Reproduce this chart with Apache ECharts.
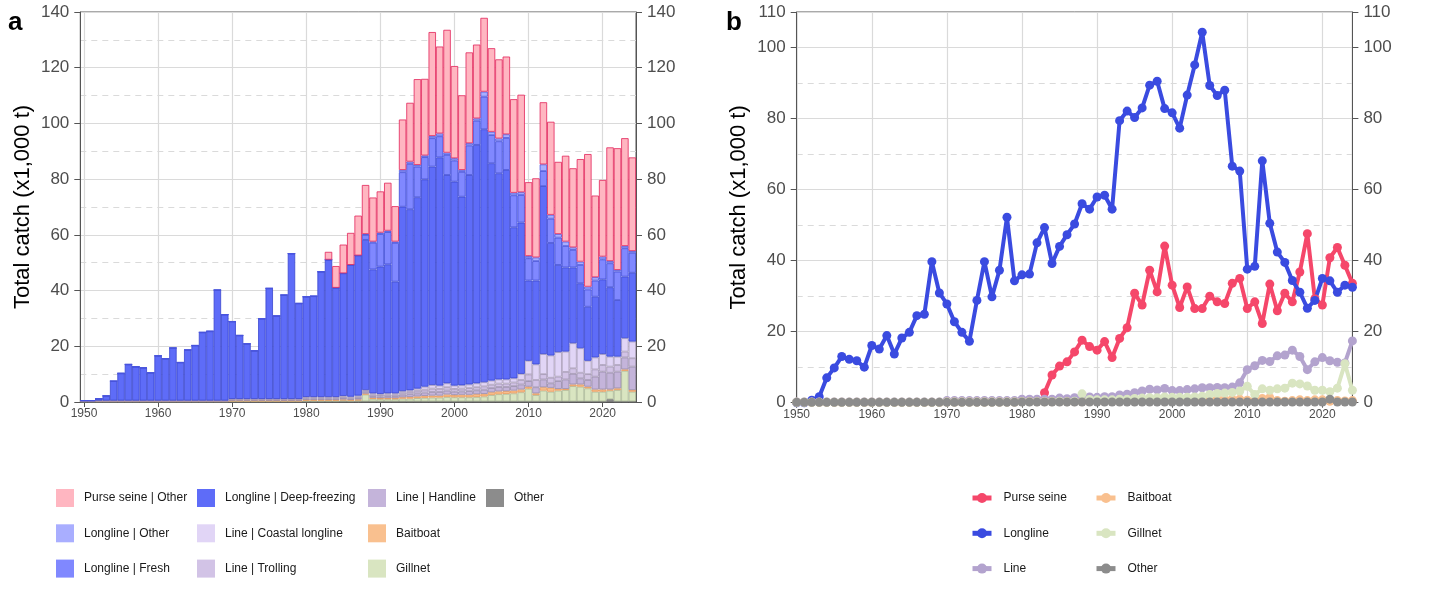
<!DOCTYPE html>
<html>
<head>
<meta charset="utf-8">
<title>Total catch by gear</title>
<script src="https://cdn.jsdelivr.net/npm/echarts@6/dist/echarts.min.js"></script>
<style>
html, body { margin: 0; padding: 0; background: #fff; }
#chart { width: 1432px; height: 603px; }
</style>
</head>
<body>
<div id="chart"></div>
<script>
var years = [];
for (var y = 1950; y <= 2024; y++) years.push(y);

var decadeTicks = [1950, 1960, 1970, 1980, 1990, 2000, 2010, 2020];

// catch by fleet component, x1,000 t, one value per year 1950-2024
var deepFreezing = [
  0, 0, 0.7, 1.7, 7.0, 9.8, 13.0, 12.2, 11.8, 10.0,
  16.1, 15.1, 18.9, 13.7, 18.2, 19.8, 24.5, 24.9, 39.7, 30.9,
  27.8, 22.8, 19.8, 17.3, 28.8, 39.7, 29.8, 37.3, 52.2, 34.3,
  36.0, 36.2, 45.0, 49.3, 39.2, 44.0, 47.3, 50.3, 53.9, 44.5,
  45.7, 46.3, 40.1, 66.2, 65.0, 68.7, 74.4, 78.4, 81.9, 74.8,
  73.2, 67.7, 75.2, 85.6, 90.8, 78.0, 74.0, 75.2, 54.2, 54.3,
  28.8, 30.1, 60.3, 40.4, 31.3, 30.2, 27.2, 23.3, 19.4, 21.8,
  26.8, 24.9, 20.3, 22.1, 24.7
];
var fresh = [
  0, 0, 0, 0, 0, 0, 0, 0, 0, 0,
  0, 0, 0, 0, 0, 0, 0, 0, 0, 0,
  0, 0, 0, 0, 0, 0, 0, 0, 0, 0,
  0, 0, 0, 0, 0, 0, 0, 0, 1.8, 9.6,
  11.7, 11.6, 13.9, 12.4, 16.3, 11.0, 8.0, 10.2, 7.6, 7.2,
  7.6, 8.9, 10.6, 8.7, 11.7, 10.1, 11.5, 11.5, 11.5, 9.9,
  8.0, 7.0, 5.4, 8.7, 9.8, 7.7, 6.3, 6.6, 6.2, 5.8,
  7.2, 8.6, 10.2, 10.2, 7.2
];
var longlineOther = [
  0, 0, 0, 0, 0, 0, 0, 0, 0, 0,
  0, 0, 0, 0, 0, 0, 0, 0, 0, 0,
  0, 0, 0, 0, 0, 0, 0, 0, 0, 0,
  0, 0, 0, 0, 0, 0, 0, 0, 0.3, 0.4,
  0.5, 0.5, 0.5, 0.8, 0.8, 0.6, 0.6, 0.8, 1.0, 0.8,
  0.8, 0.7, 0.8, 0.8, 1.8, 1.2, 1.0, 1.3, 0.9, 1.0,
  0.8, 1.3, 2.4, 1.4, 1.3, 1.6, 0.9, 1.2, 1.0, 1.2,
  1.0, 0.8, 0.6, 0.8, 0.6
];
var purseSeine = [
  null, null, null, null, null, null, null, null, null, null,
  null, null, null, null, null, null, null, null, null, null,
  null, null, null, null, null, null, null, null, null, null,
  null, null, null, 2.8, 7.8, 10.3, 11.5, 14.3, 17.6, 15.8,
  14.8, 17.2, 12.7, 18.1, 21.1, 30.8, 27.5, 37.3, 31.2, 44.1,
  33.1, 26.8, 32.6, 26.5, 26.5, 30.0, 28.4, 27.9, 33.6, 35.0,
  26.5, 28.4, 22.3, 33.4, 25.9, 30.8, 28.4, 36.8, 47.6, 29.3,
  27.5, 40.8, 43.7, 38.7, 33.6
];
var coastal = [
  0, 0, 0, 0, 0, 0, 0, 0, 0, 0,
  0, 0, 0, 0, 0, 0, 0, 0, 0, 0,
  0.1, 0.1, 0.1, 0.1, 0.1, 0.1, 0.1, 0.1, 0.1, 0.1,
  0.2, 0.2, 0.2, 0.2, 0.2, 0.3, 0.3, 0.4, 0.3, 0.4,
  0.4, 0.4, 0.4, 0.6, 0.6, 0.8, 1.1, 1.3, 1.2, 1.4,
  1.2, 1.2, 1.3, 1.4, 1.5, 1.5, 1.5, 1.5, 1.5, 2.2,
  4.9, 5.6, 7.2, 8.0, 8.8, 7.3, 9.0, 8.8, 4.8, 4.3,
  3.9, 3.6, 3.0, 4.8, 6.0
];
var trolling = [
  0.1, 0.1, 0.1, 0.1, 0.1, 0.1, 0.1, 0.1, 0.1, 0.1,
  0.1, 0.1, 0.1, 0.1, 0.1, 0.1, 0.1, 0.1, 0.1, 0.1,
  0.2, 0.2, 0.2, 0.2, 0.2, 0.2, 0.2, 0.2, 0.2, 0.2,
  0.4, 0.4, 0.4, 0.4, 0.4, 0.5, 0.4, 0.5, 0.5, 0.6,
  0.5, 0.6, 0.6, 0.7, 0.8, 0.9, 1.0, 1.2, 1.1, 1.2,
  1.0, 1.0, 1.1, 1.1, 1.2, 1.2, 1.2, 1.2, 1.3, 1.6,
  2.4, 2.6, 1.9, 2.0, 1.6, 2.7, 2.0, 2.0, 2.1, 2.6,
  2.4, 2.2, 2.4, 2.1, 3.0
];
var handline = [
  0.1, 0.1, 0.1, 0.1, 0.1, 0.1, 0.1, 0.1, 0.1, 0.1,
  0.1, 0.1, 0.1, 0.1, 0.1, 0.1, 0.1, 0.1, 0.1, 0.1,
  0.3, 0.3, 0.3, 0.3, 0.3, 0.3, 0.3, 0.3, 0.3, 0.3,
  0.4, 0.4, 0.4, 0.4, 0.4, 0.5, 0.4, 0.5, 0.5, 0.6,
  0.6, 0.7, 0.7, 0.9, 1.0, 1.1, 1.2, 1.3, 1.3, 1.4,
  1.2, 1.2, 1.3, 1.4, 1.5, 1.5, 1.6, 1.5, 1.6, 1.8,
  2.0, 2.2, 2.8, 1.6, 2.8, 3.4, 3.8, 2.2, 2.4, 4.6,
  6.4, 6.0, 6.0, 4.3, 8.4
];
var baitboat = [
  0.1, 0.1, 0.1, 0.1, 0.1, 0.1, 0.1, 0.1, 0.1, 0.1,
  0.1, 0.1, 0.1, 0.1, 0.1, 0.1, 0.1, 0.1, 0.1, 0.1,
  0.2, 0.2, 0.2, 0.2, 0.2, 0.2, 0.2, 0.2, 0.2, 0.2,
  0.3, 0.3, 0.3, 0.3, 0.3, 0.3, 0.3, 0.3, 0.3, 0.4,
  0.4, 0.4, 0.4, 0.5, 0.6, 0.6, 0.7, 0.7, 0.7, 0.9,
  0.8, 0.9, 0.9, 1.0, 0.9, 1.0, 1.0, 1.0, 1.0, 1.0,
  0.7, 0.6, 1.2, 1.4, 0.6, 0.4, 0.6, 0.8, 0.6, 0.8,
  0.8, 0.4, 0.6, 0.5, 0.6
];
var gillnet = [
  0.1, 0.1, 0.1, 0.1, 0.1, 0.1, 0.1, 0.1, 0.1, 0.1,
  0.1, 0.1, 0.1, 0.1, 0.1, 0.1, 0.1, 0.1, 0.1, 0.1,
  0.2, 0.2, 0.2, 0.2, 0.2, 0.2, 0.2, 0.2, 0.2, 0.2,
  0.3, 0.3, 0.3, 0.3, 0.3, 0.4, 0.3, 0.4, 2.5, 0.9,
  0.8, 0.8, 0.8, 1.0, 1.0, 1.2, 1.3, 1.4, 1.4, 1.6,
  1.5, 1.5, 1.5, 1.6, 1.8, 2.3, 2.6, 2.7, 2.9, 3.3,
  4.6, 2.3, 3.9, 3.5, 3.9, 4.1, 5.5, 5.3, 4.7, 3.5,
  3.5, 3.1, 4.1, 11.0, 3.5
];
var otherGear = [
  0.1, 0.1, 0.1, 0.1, 0.1, 0.1, 0.1, 0.1, 0.1, 0.1,
  0.1, 0.1, 0.1, 0.1, 0.1, 0.1, 0.1, 0.1, 0.1, 0.1,
  0.1, 0.1, 0.1, 0.1, 0.1, 0.1, 0.1, 0.1, 0.1, 0.1,
  0.2, 0.2, 0.2, 0.2, 0.2, 0.2, 0.2, 0.2, 0.2, 0.2,
  0.2, 0.2, 0.2, 0.2, 0.2, 0.2, 0.2, 0.2, 0.2, 0.2,
  0.2, 0.2, 0.2, 0.2, 0.2, 0.2, 0.2, 0.2, 0.2, 0.2,
  0.2, 0.2, 0.2, 0.2, 0.2, 0.2, 0.2, 0.2, 0.2, 0.2,
  0.2, 1.0, 0.2, 0.2, 0.2
];

// gear totals for panel b
function sumOf(lists) {
  return years.map(function (yr, i) {
    var s = 0;
    lists.forEach(function (l) { s += l[i] || 0; });
    return Math.round(s * 100) / 100;
  });
}
var longlineTotal = sumOf([deepFreezing, fresh, longlineOther]);
var lineTotal = sumOf([handline, trolling, coastal]);

function pairs(arr) {
  return arr.map(function (v, i) { return [years[i], v]; });
}

// stacked from the bottom up
var layers = [
  { name: 'Other', data: otherGear, fill: '#8c8c8c', edge: '#6e6e6e' },
  { name: 'Gillnet', data: gillnet, fill: '#d9e5c1', edge: '#aab896' },
  { name: 'Baitboat', data: baitboat, fill: '#f9c08f', edge: '#e99a5c' },
  { name: 'Line | Handline', data: handline, fill: '#c4b4da', edge: '#978aa9' },
  { name: 'Line | Trolling', data: trolling, fill: '#d2c3e6', edge: '#a194b3' },
  { name: 'Line | Coastal longline', data: coastal, fill: '#e1d5f6', edge: '#a99db9' },
  { name: 'Longline | Deep-freezing', data: deepFreezing, fill: '#5e6cf8', edge: '#3a46cf' },
  { name: 'Longline | Fresh', data: fresh, fill: '#8088ff', edge: '#3f4bd6' },
  { name: 'Longline | Other', data: longlineOther, fill: '#a9aeff', edge: '#4a55de' },
  { name: 'Purse seine | Other', data: purseSeine, fill: '#ffb6c1', edge: '#e2245a' }
];

var gears = [
  { name: 'Purse seine', data: purseSeine, color: '#f5476a' },
  { name: 'Longline', data: longlineTotal, color: '#3a4be0' },
  { name: 'Line', data: lineTotal, color: '#b3a3ce' },
  { name: 'b:Baitboat', data: baitboat, color: '#f9c08f' },
  { name: 'b:Gillnet', data: gillnet, color: '#d9e5c1' },
  { name: 'b:Other', data: otherGear, color: '#8c8c8c' }
];

var axisColor = '#555555';
var labelColor = '#4d4d4d';
var gridColor = '#dadada';

function yearAxis(gridIndex, min, max) {
  return {
    type: 'value', gridIndex: gridIndex, position: 'bottom', min: min, max: max,
    minInterval: 10, maxInterval: 10,
    axisLine: { show: true, lineStyle: { color: axisColor, width: 1 } },
    axisTick: { show: true, length: 5, customValues: decadeTicks, lineStyle: { color: axisColor } },
    axisLabel: {
      customValues: decadeTicks,
      fontSize: 12, color: labelColor, margin: 6,
      formatter: function (v) { return String(v); }
    },
    splitLine: { show: true, lineStyle: { color: gridColor, width: 1.2 } }
  };
}

function yAxisFor(gridIndex, max, side, title, gap) {
  var ax = {
    type: 'value', gridIndex: gridIndex, position: side,
    min: 0, max: max, interval: 20,
    axisLine: { show: true, lineStyle: { color: axisColor, width: 1 } },
    axisTick: { show: true, length: 6, lineStyle: { color: axisColor } },
    axisLabel: { fontSize: 17, color: labelColor, margin: 11 },
    minorTick: { show: false, splitNumber: 2 },
    splitLine: { show: side === 'left', lineStyle: { color: gridColor, width: 1.2 } },
    minorSplitLine: { show: side === 'left', lineStyle: { color: gridColor, width: 1, type: [6, 5] } }
  };
  if (title) {
    ax.name = title;
    ax.nameLocation = 'middle';
    ax.nameGap = gap;
    ax.nameTextStyle = { fontSize: 22, color: '#000' };
  }
  return ax;
}

var series = [];
layers.forEach(function (l) {
  series.push({
    name: l.name, type: 'bar', stack: 'catch',
    xAxisIndex: 0, yAxisIndex: 0,
    barCategoryGap: '0%',
    data: l.data,
    itemStyle: { color: l.fill, borderColor: l.edge, borderWidth: 0.8 },
    emphasis: { disabled: true }
  });
});
gears.forEach(function (g) {
  series.push({
    name: g.name, type: 'line',
    xAxisIndex: 2, yAxisIndex: 2,
    data: pairs(g.data),
    symbol: 'circle', symbolSize: 9, showSymbol: true,
    lineStyle: { color: g.color, width: 4 },
    itemStyle: { color: g.color },
    emphasis: { disabled: true }
  });
});

function barLegend(names, left) {
  return {
    data: names, orient: 'vertical', left: left, top: 489,
    itemWidth: 18, itemHeight: 18, itemGap: 17.3, icon: 'rect',
    selectedMode: false, padding: 0,
    itemStyle: { borderWidth: 0 },
    textStyle: { fontSize: 12, color: '#1a1a1a', lineHeight: 18, padding: [0, 0, 0, 5] }
  };
}
function lineLegend(names, left) {
  return {
    data: names, orient: 'vertical', left: left, top: 489,
    itemWidth: 19, itemHeight: 12.5, itemGap: 17.3,
    selectedMode: false, padding: 0,
    lineStyle: { width: 5 },
    formatter: function (n) { return n.replace('b:', ''); },
    textStyle: { fontSize: 12, color: '#1a1a1a', lineHeight: 18, padding: [0, 0, 0, 7] }
  };
}

var option = {
  animation: false,
  textStyle: { fontFamily: 'Liberation Sans, Arial, sans-serif' },
  title: [
    { text: 'a', left: 3, top: 5, textStyle: { fontSize: 26, fontWeight: 'bold', color: '#000' } },
    { text: 'b', left: 721, top: 5, textStyle: { fontSize: 26, fontWeight: 'bold', color: '#000' } }
  ],
  grid: [
    { left: 80.3, top: 12, width: 555.7, height: 390, show: true, borderColor: axisColor, borderWidth: 1, outerBoundsMode: 'none' },
    { left: 796.7, top: 12, width: 555.7, height: 390.7, show: true, borderColor: axisColor, borderWidth: 1, outerBoundsMode: 'none' }
  ],
  xAxis: [
    { type: 'category', gridIndex: 0, position: 'bottom', data: years, boundaryGap: true, show: false },
    yearAxis(0, 1949.5, 2024.5),
    yearAxis(1, 1950, 2024)
  ],
  yAxis: [
    yAxisFor(0, 140, 'left', 'Total catch (x1,000 t)', 46),
    yAxisFor(0, 140, 'right'),
    yAxisFor(1, 110, 'left', 'Total catch (x1,000 t)', 47),
    yAxisFor(1, 110, 'right')
  ],
  legend: [
    barLegend(['Purse seine | Other', 'Longline | Other', 'Longline | Fresh'], 56),
    barLegend(['Longline | Deep-freezing', 'Line | Coastal longline', 'Line | Trolling'], 197),
    barLegend(['Line | Handline', 'Baitboat', 'Gillnet'], 368),
    barLegend(['Other'], 486),
    lineLegend(['Purse seine', 'Longline', 'Line'], 970),
    lineLegend(['b:Baitboat', 'b:Gillnet', 'b:Other'], 1094)
  ],
  series: series
};

var chart = echarts.init(document.getElementById('chart'));
chart.setOption(option);
</script>
</body>
</html>
